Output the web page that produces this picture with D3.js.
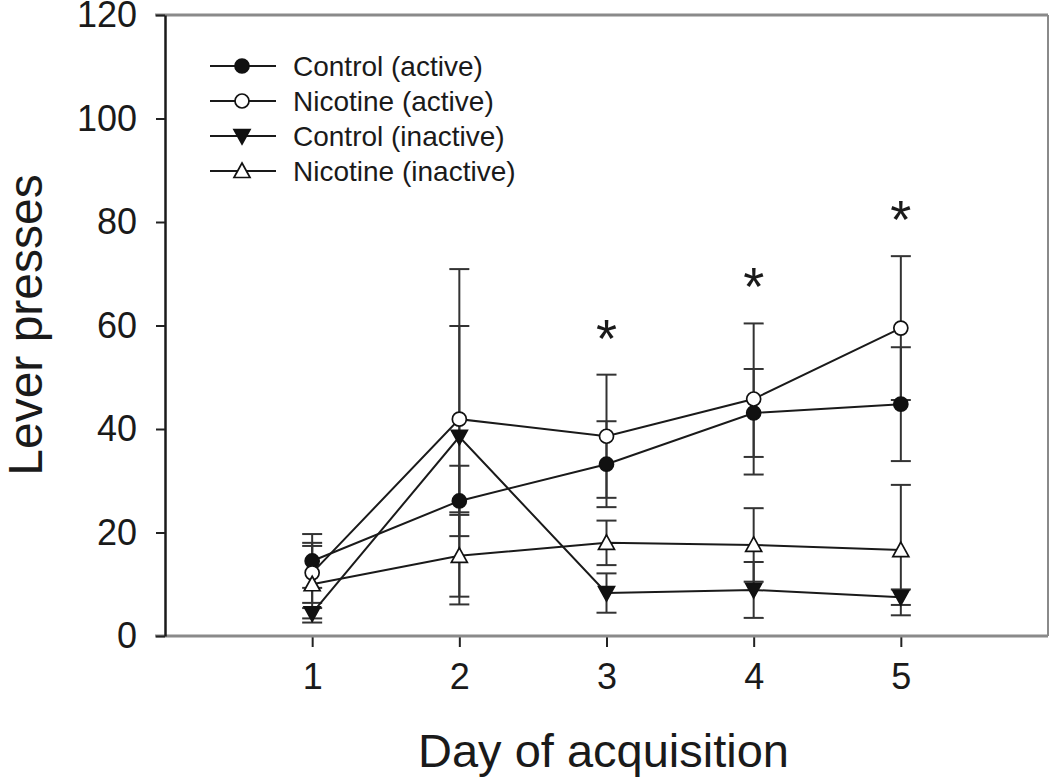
<!DOCTYPE html>
<html>
<head>
<meta charset="utf-8">
<script src="https://cdn.jsdelivr.net/npm/d3@7"></script>
<style>
  body { margin: 0; background: #fff; }
  text { font-family: "Liberation Sans", Arial, sans-serif; fill: #1a1a1a; }
</style>
</head>
<body>
<div id="chart"></div>
<script>
// Width and height of the picture
var width = 1050;
var height = 783;

// Data (mean and SEM per day)
var days = [1, 2, 3, 4, 5];
var xTicks = [1, 2, 3, 4, 5];
var yTicks = [0, 20, 40, 60, 80, 100, 120];

var controlActive = [14.5, 26.1, 33.2, 43.1, 44.8];
var controlActiveSem = [5.2, 6.8, 8.3, 8.5, 11.0];
var nicotineActive = [12.2, 41.9, 38.6, 45.8, 59.5];
var nicotineActiveSem = [5.8, 18.0, 11.9, 14.6, 13.9];
var controlInactive = [4.4, 38.5, 8.3, 8.9, 7.5];
var controlInactiveSem = [1.0, 32.4, 3.8, 5.4, 1.5];
var nicotineInactive = [10.0, 15.5, 18.0, 17.6, 16.6];
var nicotineInactiveSem = [7.4, 7.9, 4.3, 7.1, 12.6];

// days marked as significant
var starDays = [3, 4, 5];

var seriesNames = ["Control (active)", "Nicotine (active)", "Control (inactive)", "Nicotine (inactive)"];
var seriesMarkers = ["circle", "circle", "down", "up"];
var seriesFills = ["#111", "#fff", "#111", "#fff"];

var series = [
  { name: seriesNames[0], mean: controlActive, sem: controlActiveSem, marker: seriesMarkers[0], fill: seriesFills[0] },
  { name: seriesNames[1], mean: nicotineActive, sem: nicotineActiveSem, marker: seriesMarkers[1], fill: seriesFills[1] },
  { name: seriesNames[2], mean: controlInactive, sem: controlInactiveSem, marker: seriesMarkers[2], fill: seriesFills[2] },
  { name: seriesNames[3], mean: nicotineInactive, sem: nicotineInactiveSem, marker: seriesMarkers[3], fill: seriesFills[3] }
];

// plot area (note: "top" is taken by window.top, so use other names)
var plotLeft = 165, plotRight = 1048, plotTop = 15, plotBottom = 636;

var x = d3.scaleLinear().domain([0, 6]).range([plotLeft, plotRight]);
var y = d3.scaleLinear().domain([0, 120]).range([plotBottom, plotTop]);

var svg = d3.select("#chart")
  .append("svg")
  .attr("width", width)
  .attr("height", height);

// frame: gray top, right and bottom
svg.append("line").attr("x1", plotLeft - 10).attr("x2", plotRight).attr("y1", plotTop).attr("y2", plotTop)
  .style("stroke", "#8a8a8a").style("stroke-width", 3);
svg.append("line").attr("x1", plotRight).attr("x2", plotRight).attr("y1", plotTop).attr("y2", plotBottom)
  .style("stroke", "#8a8a8a").style("stroke-width", 2);

// x axis
var xAxis = svg.append("g")
  .attr("transform", "translate(0," + plotBottom + ")")
  .call(d3.axisBottom(x).tickValues(xTicks).tickFormat(d3.format("d"))
    .tickSize(11).tickPadding(16).tickSizeOuter(0));
xAxis.select(".domain").remove();
xAxis.append("line").attr("x1", plotLeft - 10).attr("x2", plotRight)
  .style("stroke", "#8a8a8a").style("stroke-width", 3);
xAxis.selectAll(".tick line").style("stroke", "#222").style("stroke-width", 2);
xAxis.selectAll(".tick text").style("font-size", "36px").style("fill", "#1a1a1a")
  .style("font-family", "'Liberation Sans', Arial, sans-serif");

// y axis
var yAxis = svg.append("g")
  .attr("transform", "translate(" + plotLeft + ",0)")
  .call(d3.axisLeft(y).tickValues(yTicks).tickSize(9).tickPadding(19).tickSizeOuter(0));
yAxis.select(".domain").style("stroke", "#1a1a1a").style("stroke-width", 2.5);
yAxis.selectAll(".tick line").style("stroke", "#222").style("stroke-width", 2);
yAxis.selectAll(".tick text").style("font-size", "36px").style("fill", "#1a1a1a")
  .style("font-family", "'Liberation Sans', Arial, sans-serif");

// axis titles
svg.append("text")
  .attr("x", (plotLeft + plotRight) / 2 - 3)
  .attr("y", 767)
  .attr("text-anchor", "middle")
  .style("font-size", "47px")
  .text("Day of acquisition");

svg.append("text")
  .attr("transform", "translate(42," + 325 + ") rotate(-90)")
  .attr("text-anchor", "middle")
  .style("font-size", "48px")
  .text("Lever presses");

// marker drawing
function markerPath(type) {
  if (type === "up") return "M0,-8L8,6.5L-8,6.5Z";
  if (type === "down") return "M0,8L8,-6.5L-8,-6.5Z";
  return null;
}

function drawMarker(g, type, fill, cx, cy) {
  if (type === "circle") {
    g.append("circle").attr("cx", cx).attr("cy", cy).attr("r", 7)
      .style("fill", fill).style("stroke", "#111").style("stroke-width", 1.7);
  } else {
    g.append("path").attr("d", markerPath(type))
      .attr("transform", "translate(" + cx + "," + cy + ")")
      .style("fill", fill).style("stroke", "#111").style("stroke-width", 1.7);
  }
}

// error bars
var capHalf = 10;
var bars = svg.append("g");
series.forEach(function(s) {
  days.forEach(function(d, i) {
    var lo = y(s.mean[i] - s.sem[i]), hi = y(s.mean[i] + s.sem[i]);
    bars.append("line").attr("x1", x(d)).attr("x2", x(d)).attr("y1", lo).attr("y2", hi)
      .style("stroke", "#333").style("stroke-width", 2);
    [lo, hi].forEach(function(v) {
      bars.append("line").attr("x1", x(d) - capHalf).attr("x2", x(d) + capHalf).attr("y1", v).attr("y2", v)
        .style("stroke", "#333").style("stroke-width", 2);
    });
  });
});

// lines connecting means
var line = d3.line()
  .x(function(d, i) { return x(days[i]); })
  .y(function(d) { return y(d); });

series.forEach(function(s) {
  svg.append("path").attr("d", line(s.mean))
    .style("fill", "none").style("stroke", "#1a1a1a").style("stroke-width", 2);
});

// markers on top
var marks = svg.append("g");
series.forEach(function(s) {
  days.forEach(function(d, i) {
    drawMarker(marks, s.marker, s.fill, x(d), y(s.mean[i]));
  });
});

// asterisks above the highest error bar
starDays.forEach(function(d) {
  var i = days.indexOf(d);
  var topVal = d3.max(series, function(s) { return s.mean[i] + s.sem[i]; });
  svg.append("text")
    .attr("x", x(d))
    .attr("y", y(topVal) - 18)
    .attr("text-anchor", "middle")
    .style("font-size", "54px")
    .text("*");
});

// legend
var legend = svg.append("g");
var legendY = [66, 101, 136, 171];
series.forEach(function(s, i) {
  var ly = legendY[i];
  legend.append("line").attr("x1", 210).attr("x2", 276).attr("y1", ly).attr("y2", ly)
    .style("stroke", "#1a1a1a").style("stroke-width", 2);
  drawMarker(legend, s.marker, s.fill, 242, ly);
  legend.append("text")
    .attr("x", 293)
    .attr("y", ly)
    .attr("dy", "0.35em")
    .style("font-size", "28px")
    .text(s.name);
});
</script>
</body>
</html>
